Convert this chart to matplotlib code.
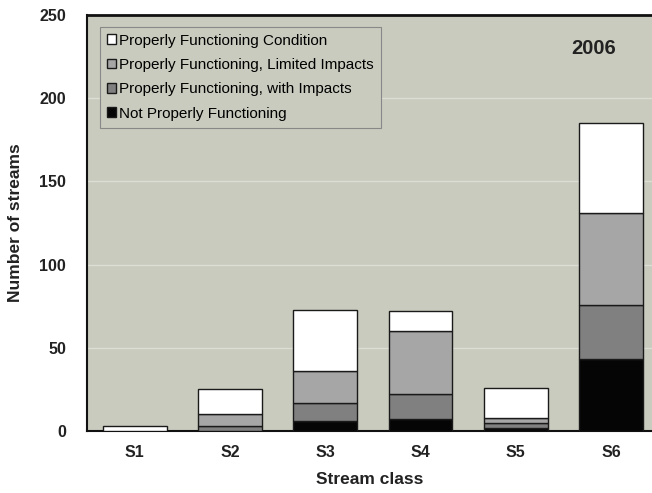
import numpy as np
import matplotlib.pyplot as plt

plt.rcParams["font.family"] = ["Liberation Sans", "DejaVu Sans"]

# data
classes = ["S1", "S2", "S3", "S4", "S5", "S6"]
not_functioning = [0, 0, 6, 7, 2, 43]
with_impacts = [0, 3, 11, 15, 3, 33]
limited_impacts = [0, 7, 19, 38, 3, 55]
proper_condition = [3, 15, 37, 12, 18, 54]

layers = [
    ("Not Properly Functioning", not_functioning, "#050505"),
    ("Properly Functioning, with Impacts", with_impacts, "#808080"),
    ("Properly Functioning, Limited Impacts", limited_impacts, "#A6A6A6"),
    ("Properly Functioning Condition", proper_condition, "#FFFFFF"),
]

bg = "#C9CBBE"
W, H = 652, 493

fig = plt.figure(figsize=(W / 100, H / 100), dpi=100)
fig.patch.set_facecolor("white")
ax = fig.add_axes([87 / W, 1 - 431 / H, (W - 87) / W, (431 - 15) / H])
ax.set_facecolor(bg)

x = np.arange(len(classes))
bottom = np.zeros(len(classes))
handles = []
for name, vals, color in layers:
    vals = np.array(vals, dtype=float)
    b = ax.bar(x, vals, width=0.67, bottom=bottom, color=color,
               edgecolor="#1a1a1a", linewidth=1.0, label=name, zorder=3)
    handles.append(b)
    bottom += vals

ax.set_xlim(-0.5, -0.5 + (W - 87) / 95.3)
ax.set_ylim(0, 250)
ax.set_yticks(range(0, 251, 50))
ax.set_xticks(x)
ax.set_xticklabels(classes)

for yv in range(50, 201, 50):
    ax.axhline(yv, color="#DCDDD4", linewidth=1.0, zorder=1)

for s in ["left", "top", "bottom"]:
    ax.spines[s].set_color("#111111")
ax.spines["left"].set_linewidth(1.5)
ax.spines["bottom"].set_linewidth(1.5)
ax.spines["top"].set_linewidth(2.0)
ax.spines["right"].set_visible(False)

ax.tick_params(axis="both", length=0, labelsize=11.5, colors="#222222")
ax.tick_params(axis="y", pad=15)
ax.tick_params(axis="x", pad=10)
for lbl in ax.get_xticklabels() + ax.get_yticklabels():
    lbl.set_fontweight("bold")

ax.set_xlabel("Stream class", fontsize=12.5, fontweight="bold", labelpad=9, color="#222222")
ax.set_ylabel("Number of streams", fontsize=12.5, fontweight="bold", labelpad=12, color="#222222")

ax.text(4.82, 230, "2006", fontsize=14.5, fontweight="bold", ha="center", va="center", color="#222222")

leg = ax.legend(handles[::-1], [l[0] for l in layers][::-1],
                loc="upper left", bbox_to_anchor=(0.023, 0.972),
                borderaxespad=0, frameon=True, fancybox=False,
                fontsize=11, handlelength=0.6, handleheight=0.6,
                handletextpad=0.2, labelspacing=0.68, borderpad=0.45)
leg.get_frame().set_facecolor(bg)
leg.get_frame().set_edgecolor("#888888")
leg.get_frame().set_linewidth(0.8)
leg.get_frame().set_alpha(1)

fig.savefig("out.png", dpi=100)
